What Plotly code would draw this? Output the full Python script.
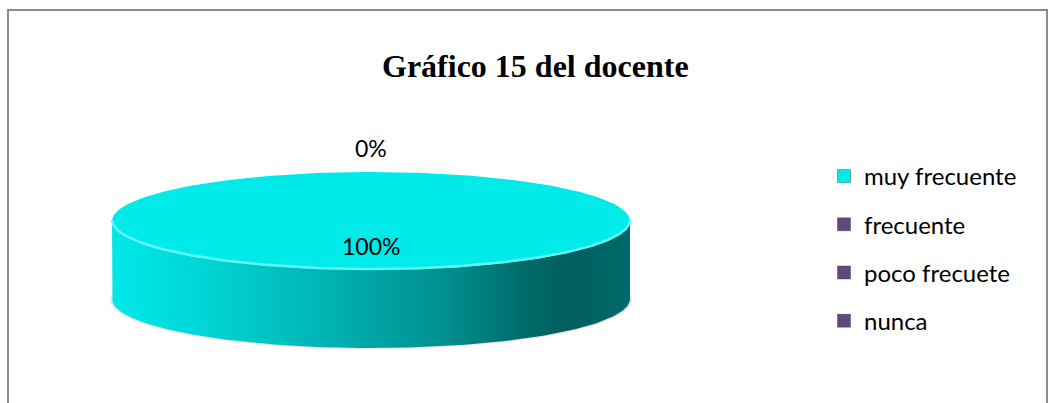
import numpy as np
import plotly.graph_objects as go

# Survey answers and their shares (percent)
categories = ["muy frecuente", "frecuente", "poco frecuete", "nunca"]
percentages = [100, 0, 0, 0]
slice_colors = ["#00EAEA", "#604A7B", "#604A7B", "#604A7B"]
title_text = "Gráfico 15 del docente"

W, H = 1050, 403

# 3D pie geometry in pixel space
CX, CY = 371, 221        # centre of the top face
RX, RY = 259, 49         # semi-axes of the top face
DEPTH = 78               # thickness of the disc

side_scale = [
    [0.0, "#00E8E8"],
    [0.2, "#00D2D2"],
    [0.45, "#00AEAE"],
    [0.65, "#008E8E"],
    [0.8, "#006A6A"],
    [0.88, "#005E5E"],
    [1.0, "#006A6A"],
]


def ell(theta, dy=0.0, kx=1.0, ky=1.0):
    """Point on the projected ellipse; theta measured clockwise from 12 o'clock."""
    return CX + RX * kx * np.sin(theta), CY - RY * ky * np.cos(theta) + dy


fig = go.Figure()

total = float(sum(percentages))
fractions = [p / total for p in percentages]
starts = np.cumsum([0.0] + fractions[:-1])

# soft drop shadow under the disc
t = np.linspace(0, 2 * np.pi, 240)
sx, sy = ell(t, dy=DEPTH + 1, kx=1.008, ky=1.0)
fig.add_trace(go.Scatter(x=sx, y=sy, fill="toself", mode="lines",
                         line=dict(width=0), fillcolor="rgba(110,95,95,0.16)",
                         hoverinfo="skip", showlegend=False))

labels = []
for i, (name, frac, a) in enumerate(zip(categories, fractions, starts)):
    a0, a1 = 2 * np.pi * a, 2 * np.pi * (a + frac)
    mid = (a0 + a1) / 2
    if frac > 0:
        # front wall of the slice (visible part between 90° and 270°)
        s0, s1 = max(a0, np.pi / 2), min(a1, 3 * np.pi / 2)
        if s1 > s0:
            th = np.linspace(s0, s1, 200)
            tx, ty = ell(th)
            bx, by = ell(th[::-1], dy=DEPTH)
            fig.add_trace(go.Scatter(
                x=np.concatenate([tx, bx]), y=np.concatenate([ty, by]),
                fill="toself", mode="lines", line=dict(width=0),
                fillgradient=dict(type="horizontal", colorscale=side_scale,
                                  start=CX - RX, stop=CX + RX),
                hoverinfo="skip", showlegend=False))
        # top face
        th = np.linspace(a0, a1, 300)
        tx, ty = ell(th)
        if frac < 1:
            tx = np.concatenate([[CX], tx, [CX]])
            ty = np.concatenate([[CY], ty, [CY]])
        fig.add_trace(go.Scatter(x=tx, y=ty, fill="toself", mode="lines",
                                 line=dict(width=0), fillcolor=slice_colors[i],
                                 hoverinfo="skip", showlegend=False))
        # bright rim along the front edge of the top face
        if s1 > s0:
            th = np.linspace(s0, s1, 200)
            rx_, ry_ = ell(th)
            fig.add_trace(go.Scatter(x=rx_, y=ry_ - 1, mode="lines",
                                     line=dict(color="#5CFAFA", width=2.5),
                                     hoverinfo="skip", showlegend=False))
    # value label: inside for real slices, outside for empty ones
    if frac > 0:
        lx, ly = ell(mid, kx=0.5 * abs(np.sin(mid)), ky=0.5)
    else:
        lx, ly = ell(mid, kx=1.0, ky=1.49)
    labels.append((round(lx, 1), round(ly, 1), f"{percentages[i]:.0f}%"))

for lx, ly, txt in dict.fromkeys(labels):
    fig.add_annotation(x=lx, y=ly, text=txt, showarrow=False,
                       font=dict(family="Lato", size=23, color="#000000"),
                       xanchor="center", yanchor="middle")

# legend entries
for i, name in enumerate(categories):
    fig.add_trace(go.Scatter(
        x=[None], y=[None], mode="markers", name=name, legendgroup=f"g{i}",
        marker=dict(symbol="square", size=13, color=slice_colors[i],
                    line=dict(color="rgba(40,30,60,0.35)", width=1))))

fig.add_annotation(x=535, y=66, text=f"<b>{title_text}</b>", showarrow=False,
                   font=dict(family="Liberation Serif", size=32, color="#000000"),
                   xanchor="center", yanchor="middle")

# outer chart frame
fig.add_shape(type="rect", x0=8, x1=1047, y0=10, y1=430,
              line=dict(color="#8A8A8A", width=2), layer="above")

fig.update_layout(
    width=W, height=H,
    margin=dict(l=0, r=0, t=0, b=0),
    paper_bgcolor="white", plot_bgcolor="white",
    xaxis=dict(range=[0, W], visible=False, fixedrange=True),
    yaxis=dict(range=[H, 0], visible=False, fixedrange=True),
    showlegend=True,
    legend=dict(x=824 / W, y=1 - 154 / H, xanchor="left", yanchor="top",
                traceorder="grouped", tracegroupgap=14,
                font=dict(family="Lato", size=24, color="#000000"),
                bgcolor="rgba(0,0,0,0)", itemwidth=30),
)

fig.write_html("out.html")
